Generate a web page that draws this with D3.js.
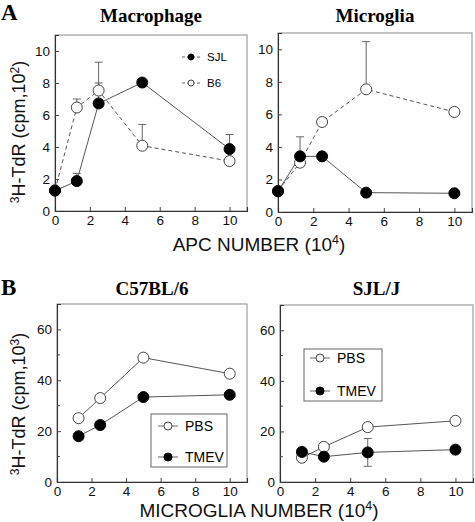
<!DOCTYPE html>
<html><head><meta charset="utf-8">
<script src="https://cdn.jsdelivr.net/npm/d3@7"></script>
<style>body{margin:0;background:#fff}svg{display:block}</style>
</head><body>
<svg id="c" width="475" height="522"></svg>
<script>
// ---- data ----
const xA = [0, 1.25, 2.5, 5, 10];
const macSJL = [1.27, 1.87, 6.72, 8.03, 3.87];
const macSJLerr = [0, 0.48, 1.28, 0, 0.91];
const macB6 = [1.3, 6.47, 7.53, 4.08, 3.12];
const macB6err = [0, 0.53, 1.77, 1.33, 0];
const micSJL = [1.27, 3.42, 3.42, 1.19, 1.15];
const micSJLerr = [0, 1.2, 0, 0, 0];
const micB6 = [1.3, 3.03, 5.53, 7.54, 6.15];
const micB6err = [0, 0, 0, 2.93, 0];

const xB = [1.25, 2.5, 5, 10];
const c57PBS = [25.1, 33.0, 48.9, 42.6];
const c57TMEV = [18.0, 22.4, 33.4, 34.3];
const sjlPBS = [9.6, 13.9, 21.7, 24.2];
const sjlTMEV = [11.9, 10.0, 11.7, 12.8];
const sjlTMEVerr = [0, 0, 5.5, 0];

const xTicks = [0, 2, 4, 6, 8, 10];
const yTicksA = [0, 2, 4, 6, 8, 10];
const yTicksB = [0, 20, 40, 60];
const yMinorB = [10, 30, 50];

const svg = d3.select("#c");
const SANS = "Arial, 'Liberation Sans', sans-serif";
const SERIF = "'Times New Roman', 'Liberation Serif', serif";

function panel(o) {
  const x = d3.scaleLinear().domain([0, 11]).range([o.l, o.r]);
  const y = d3.scaleLinear().domain([0, o.ymax]).range([o.b, o.t]);
  const g = svg.append("g");
  g.append("rect").attr("x", o.l).attr("y", o.t).attr("width", o.r - o.l).attr("height", o.b - o.t)
    .attr("fill", "none").attr("stroke", "#8a8a8a").attr("stroke-width", 1);
  const ax = g.append("g").attr("transform", `translate(0,${o.b})`)
    .call(d3.axisBottom(x).tickValues(xTicks).tickSize(-4).tickPadding(4).tickFormat(d3.format("d")));
  const ay = g.append("g").attr("transform", `translate(${o.l},0)`)
    .call(d3.axisLeft(y).tickValues(o.yticks).tickSize(-4).tickPadding(5).tickFormat(d3.format("d")));
  [ax, ay].forEach(a => {
    a.select(".domain").attr("stroke", "#333").attr("stroke-width", 1.1);
    a.selectAll(".tick line").attr("stroke", "#444");
    a.selectAll("text").attr("font-family", SANS).attr("font-size", 13.5).attr("fill", "#111");
  });
  if (o.minor) {
    g.selectAll(".mn").data(o.minor).enter().append("line")
      .attr("x1", o.l).attr("x2", o.l + 3).attr("y1", d => y(d)).attr("y2", d => y(d)).attr("stroke", "#444");
  }
  g.append("text").attr("x", (o.l + o.r) / 2).attr("y", o.ty).attr("text-anchor", "middle")
    .attr("font-family", SERIF).attr("font-weight", "bold").attr("font-size", 19).text(o.title);
  const line = d3.line().x(d => x(d[0])).y(d => y(d[1]));
  o.series.forEach(s => {
    const pts = s.xs.map((xv, i) => [xv, s.ys[i]]);
    g.append("path").datum(pts).attr("d", line).attr("fill", "none").attr("stroke", "#555")
      .attr("stroke-width", 1).attr("stroke-dasharray", s.dash ? "4,3" : null);
  });
  o.series.forEach(s => {
    if (!s.err) return;
    s.xs.forEach((xv, i) => {
      const e = s.err[i];
      if (!e) return;
      const top = y(s.ys[i] + e), bot = s.both ? y(s.ys[i] - e) : y(s.ys[i]);
      g.append("line").attr("x1", x(xv)).attr("x2", x(xv)).attr("y1", top).attr("y2", bot).attr("stroke", "#666");
      g.append("line").attr("x1", x(xv) - 4).attr("x2", x(xv) + 4).attr("y1", top).attr("y2", top).attr("stroke", "#666");
      if (s.both) g.append("line").attr("x1", x(xv) - 4).attr("x2", x(xv) + 4).attr("y1", bot).attr("y2", bot).attr("stroke", "#666");
    });
  });
  o.series.forEach(s => {
    g.selectAll(null).data(s.xs.map((xv, i) => [xv, s.ys[i]])).enter().append("circle")
      .attr("cx", d => x(d[0])).attr("cy", d => y(d[1])).attr("r", 5.5)
      .attr("fill", s.filled ? "#000" : "#fff").attr("stroke", s.filled ? "#000" : "#444").attr("stroke-width", 1);
  });
  return { x, y, g };
}

function legendItem(g, cx, cy, filled, label, r, fs, half, dash) {
  g.append("line").attr("x1", cx - half).attr("x2", cx + half).attr("y1", cy).attr("y2", cy)
    .attr("stroke", "#666").attr("stroke-dasharray", dash || null);
  g.append("circle").attr("cx", cx).attr("cy", cy).attr("r", r)
    .attr("fill", filled ? "#000" : "#fff").attr("stroke", filled ? "#000" : "#444");
  g.append("text").attr("x", cx + half + 7).attr("y", cy).attr("dy", "0.35em")
    .attr("font-family", SANS).attr("font-size", fs).text(label);
}

// Panel A
const pA1 = panel({ l: 55, r: 247, t: 35, b: 211, ymax: 11, yticks: yTicksA, title: "Macrophage", ty: 22,
  series: [
    { xs: xA, ys: macB6, err: macB6err, filled: false, dash: true },
    { xs: xA, ys: macSJL, err: macSJLerr, filled: true, dash: false }
  ] });
legendItem(pA1.g, 191, 57, true, "SJL", 3, 11.5, 9, "3,2");
legendItem(pA1.g, 191, 83, false, "B6", 3, 11.5, 9, "3,2");

const pA2 = panel({ l: 278, r: 472, t: 33, b: 212, ymax: 11, yticks: yTicksA, title: "Microglia", ty: 22,
  series: [
    { xs: xA, ys: micB6, err: micB6err, filled: false, dash: true },
    { xs: xA, ys: micSJL, err: micSJLerr, filled: true, dash: false }
  ] });

// Panel B
const pB1 = panel({ l: 57, r: 247, t: 304, b: 482, ymax: 70, yticks: yTicksB, minor: yMinorB, title: "C57BL/6", ty: 295,
  series: [
    { xs: xB, ys: c57PBS, filled: false },
    { xs: xB, ys: c57TMEV, filled: true }
  ] });
pB1.g.append("rect").attr("x", 151).attr("y", 414).attr("width", 76).attr("height", 53)
  .attr("fill", "#fff").attr("stroke", "#666");
legendItem(pB1.g, 168, 426, false, "PBS", 4, 14, 10);
legendItem(pB1.g, 168, 457, true, "TMEV", 4, 14, 10);

const pB2 = panel({ l: 280, r: 473, t: 305, b: 482, ymax: 70, yticks: yTicksB, minor: yMinorB, title: "SJL/J", ty: 295,
  series: [
    { xs: xB, ys: sjlPBS, filled: false },
    { xs: xB, ys: sjlTMEV, err: sjlTMEVerr, filled: true, both: true }
  ] });
pB2.g.append("rect").attr("x", 304).attr("y", 349).attr("width", 78).attr("height", 52)
  .attr("fill", "#fff").attr("stroke", "#666");
legendItem(pB2.g, 320, 358, false, "PBS", 4, 14, 10);
legendItem(pB2.g, 320, 391, true, "TMEV", 4, 14, 10);

// Panel letters
svg.append("text").attr("x", 1).attr("y", 20).attr("font-family", SERIF).attr("font-weight", "bold")
  .attr("font-size", 23).text("A");
svg.append("text").attr("x", 1).attr("y", 295).attr("font-family", SERIF).attr("font-weight", "bold")
  .attr("font-size", 23).text("B");

// axis titles
function yTitle(cx, cy, exp) {
  const t = svg.append("text").attr("transform", `translate(${cx},${cy}) rotate(-90)`)
    .attr("text-anchor", "middle").attr("font-family", SANS).attr("font-size", 18).attr("fill", "#111");
  t.append("tspan").attr("font-size", 12).attr("dy", -6).text("3");
  t.append("tspan").attr("dy", 6).text("H-TdR (cpm,10");
  t.append("tspan").attr("font-size", 12).attr("dy", -6).text(exp);
  t.append("tspan").attr("dy", 6).text(")");
}
yTitle(25, 132, "2");
yTitle(25, 404, "3");

function xTitle(cx, cy, label) {
  const t = svg.append("text").attr("x", cx).attr("y", cy).attr("text-anchor", "middle")
    .attr("font-family", SANS).attr("font-size", 19).attr("fill", "#111");
  t.append("tspan").text(label + " (10");
  t.append("tspan").attr("font-size", 12.5).attr("dy", -7).text("4");
  t.append("tspan").attr("dy", 7).text(")");
}
xTitle(259, 251, "APC NUMBER");
xTitle(259, 517, "MICROGLIA NUMBER");
</script>
</body></html>
